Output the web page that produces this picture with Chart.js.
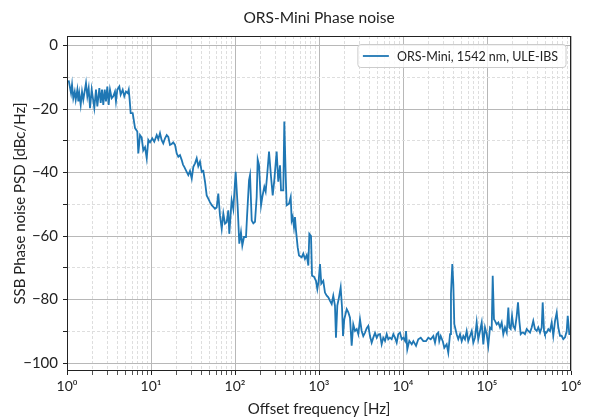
<!DOCTYPE html>
<html>
<head>
<meta charset="utf-8">
<script src="https://cdn.jsdelivr.net/npm/chart.js@4.4.0/dist/chart.umd.min.js"></script>
<style>
  html, body { margin: 0; padding: 0; background: #fff; }
</style>
</head>
<body>
<canvas id="phaseNoise" width="592" height="419"></canvas>
<script>
// offset frequency, as decade exponent (f = 10^x Hz)
const freqExp = [
  0.020,0.048,0.060,0.075,0.092,0.104,0.123,0.135,0.146,0.163,
  0.179,0.194,0.226,0.242,0.258,0.274,0.294,0.325,0.345,0.361,
  0.385,0.401,0.417,0.432,0.449,0.464,0.480,0.496,0.512,0.532,
  0.551,0.571,0.583,0.599,0.623,0.639,0.663,0.682,0.702,0.723,
  0.735,0.746,0.758,0.782,0.810,0.837,
  0.849,0.869,0.889,0.908,0.929,0.949,0.968,0.988,1.015,1.039,
  1.068,1.087,1.107,1.127,1.146,1.167,1.187,1.206,1.226,1.246,
  1.265,1.286,1.306,1.325,1.345,1.365,1.381,1.396,1.425,1.444,
  1.464,1.485,1.504,1.524,1.544,1.563,1.583,1.604,1.623,1.643,
  1.663,1.682,1.702,1.723,1.742,1.762,1.782,1.801,1.821,1.842,
  1.861,1.881,1.901,1.920,1.932,1.960,1.980,2.008,2.032,2.051,
  2.071,2.087,2.107,2.131,2.143,2.167,2.179,2.199,2.218,2.238,
  2.258,2.270,2.286,2.310,2.325,2.349,2.365,2.381,2.405,2.429,
  2.449,2.468,2.496,2.515,2.536,2.548,2.575,2.587,2.604,2.615,
  2.643,2.663,2.675,2.687,2.702,2.714,2.726,2.746,2.762,2.794,
  2.813,2.833,2.854,2.873,2.885,2.905,2.917,2.940,2.964,2.980,
  2.996,3.012,3.027,3.051,3.071,3.092,3.111,3.131,3.151,3.170,
  3.190,3.202,3.218,3.238,3.258,3.274,3.286,3.301,3.330,3.349,
  3.369,3.389,3.408,3.429,3.449,3.468,3.488,3.508,3.527,3.548,
  3.568,3.587,3.607,3.627,3.646,3.667,3.687,3.706,3.726,3.746,
  3.765,3.786,3.806,3.825,3.845,3.865,3.885,3.905,3.925,3.944,
  3.964,3.985,4.004,4.024,4.036,4.051,4.075,4.104,4.123,4.155,
  4.182,4.211,4.242,4.274,4.301,4.330,4.361,4.381,4.401,4.420,
  4.432,4.449,4.473,4.492,4.520,4.539,4.560,4.571,4.587,4.599,
  4.611,4.639,4.658,4.679,4.699,4.718,4.738,4.758,4.777,4.798,
  4.818,4.837,4.857,4.877,4.896,4.917,4.937,4.956,4.976,4.996,
  5.015,5.036,5.056,5.068,5.083,5.095,5.115,5.135,5.155,5.175,
  5.194,5.214,5.235,5.254,5.266,5.282,5.298,5.313,5.333,5.354,
  5.369,5.385,5.401,5.417,5.432,5.452,5.473,5.492,5.512,5.532,
  5.551,5.571,5.592,5.611,5.631,5.651,5.663,5.679,5.690,5.710,
  5.730,5.750,5.770,5.789,5.810,5.830,5.849,5.869,5.889,5.908,
  5.929,5.949,5.961,5.980,5.996
];

// SSB phase noise PSD in dBc/Hz
const psd = [
  -11.0,-15.0,-12.3,-16.6,-14.5,-17.1,-13.9,-17.6,-15.0,-18.7,
  -14.5,-17.1,-11.8,-16.0,-13.4,-19.7,-13.9,-19.7,-13.9,-19.2,
  -13.4,-18.1,-13.9,-18.7,-13.9,-17.6,-12.9,-18.7,-13.9,-16.6,
  -16.0,-14.5,-17.6,-13.9,-12.9,-15.5,-13.9,-16.0,-14.5,-15.0,
  -13.9,-17.1,-21.3,-21.3,-26.0,-27.1,
  -34.0,-28.2,-29.0,-33.0,-32.0,-35.5,-29.7,-30.5,-29.2,-30.3,
  -28.2,-29.5,-27.6,-29.8,-30.8,-29.2,-28.2,-28.8,-31.3,-31.0,
  -30.5,-31.3,-34.0,-35.0,-34.5,-36.0,-37.5,-38.2,-39.8,-40.8,
  -39.5,-41.9,-38.2,-37.1,-35.5,-38.0,-36.6,-39.8,-39.5,-42.9,
  -47.2,-48.2,-49.3,-50.3,-50.8,-51.4,-51.0,-46.6,-53.5,-57.7,
  -52.9,-56.1,-55.6,-51.9,-59.3,-48.7,-51.5,-39.8,-50.9,-62.4,
  -58.8,-63.0,-60.3,-60.3,-54.0,-42.4,-40.8,-55.1,-56.0,-55.5,
  -47.7,-35.9,-37.7,-50.3,-47.7,-44.5,-46.0,-41.4,-33.4,-41.4,
  -47.2,-42.4,-33.4,-42.9,-37.7,-45.6,-45.6,-23.9,-41.4,-50.3,
  -49.8,-47.7,-55.1,-54.0,-57.2,-54.0,-58.2,-63.5,-66.1,-66.7,
  -65.5,-67.2,-66.0,-69.3,-59.3,-60.0,-72.5,-72.8,-74.1,-76.7,
  -74.1,-68.8,-75.0,-74.1,-77.8,-78.8,-79.3,-80.4,-81.4,-78.8,
  -81.9,-92.0,-81.9,-79.3,-76.2,-82.5,-91.5,-86.2,-83.0,-84.0,
  -85.7,-94.5,-87.8,-89.9,-89.3,-90.9,-86.2,-89.9,-91.5,-90.4,
  -89.0,-88.3,-91.5,-93.6,-92.0,-90.5,-92.0,-91.0,-90.9,-94.1,
  -92.0,-93.0,-90.9,-92.5,-92.0,-92.5,-90.9,-92.0,-93.6,-90.9,
  -90.4,-92.5,-92.0,-93.0,-89.9,-95.7,-93.0,-94.1,-93.1,-94.6,
  -92.5,-92.0,-93.1,-93.1,-92.0,-92.5,-91.5,-93.6,-90.9,-90.4,
  -93.1,-91.5,-93.1,-95.2,-94.1,-96.7,-90.9,-78.2,-68.8,-75.0,
  -87.8,-90.9,-92.5,-90.9,-93.1,-91.5,-92.5,-89.9,-93.1,-91.5,
  -89.9,-93.6,-92.0,-87.2,-92.5,-89.9,-87.2,-94.1,-88.8,-90.9,
  -94.6,-88.8,-89.3,-72.5,-86.2,-86.7,-87.8,-87.2,-88.8,-87.2,
  -90.9,-88.8,-90.4,-82.5,-88.8,-89.3,-85.1,-88.3,-89.3,-85.1,
  -80.9,-86.7,-90.9,-90.4,-90.4,-90.9,-89.3,-89.9,-90.4,-88.8,
  -86.7,-89.3,-89.9,-88.8,-90.4,-88.8,-80.9,-89.9,-90.9,-90.4,
  -89.3,-89.9,-87.2,-91.4,-86.7,-84.1,-88.8,-91.4,-91.4,-92.5,
  -91.9,-89.9,-85.1,-90.9,-90.9
];

const decadeLabels = ['10\u2070','10\u00b9','10\u00b2','10\u00b3','10\u2074','10\u2075','10\u2076'];
const yTickValues = [-100,-95,-90,-85,-80,-75,-70,-65,-60,-55,-50,-45,-40,-35,-30,-25,-20,-15,-10,-5,0];
const seriesLabel = 'ORS-Mini, 1542 nm, ULE-IBS';

const txt = '#222222';
const fontFam = "Lato, 'DejaVu Sans', sans-serif";

// box round the plot area (matplotlib spines)
const frame = {
  id: 'frame',
  afterDatasetsDraw(chart) {
    const a = chart.chartArea, c = chart.ctx;
    c.save();
    c.strokeStyle = txt;
    c.lineWidth = 1;
    c.strokeRect(Math.round(a.left) + 0.5, Math.round(a.top) + 0.5,
                 Math.round(a.right - a.left) - 1, Math.round(a.bottom - a.top) - 1);
    c.restore();
  }
};

// legend box in upper right corner
const legendBox = {
  id: 'legendBox',
  afterDraw(chart) {
    const a = chart.chartArea, c = chart.ctx;
    const ds = chart.data.datasets[0];
    c.save();
    c.font = '12.5px ' + fontFam;
    const tw = c.measureText(ds.label).width;
    const w = tw + 47, h = 23;
    const x = a.right - 5 - w, y = a.top + 8.5;
    c.beginPath();
    c.roundRect(x, y, w, h, 3);
    c.fillStyle = 'rgba(255,255,255,0.8)';
    c.fill();
    c.strokeStyle = '#cccccc';
    c.lineWidth = 1;
    c.stroke();
    c.beginPath();
    c.moveTo(x + 5, y + h / 2);
    c.lineTo(x + 31, y + h / 2);
    c.strokeStyle = ds.borderColor;
    c.lineWidth = 1.8;
    c.stroke();
    c.fillStyle = txt;
    c.textBaseline = 'middle';
    c.fillText(ds.label, x + 39, y + h / 2 + 0.5);
    c.restore();
  }
};

const points = freqExp.map((e, i) => ({ x: Math.pow(10, e), y: psd[i] }));

new Chart(document.getElementById('phaseNoise'), {
  type: 'line',
  data: {
    datasets: [{
      label: seriesLabel,
      data: points,
      borderColor: '#1f77b4',
      backgroundColor: '#1f77b4',
      borderWidth: 1.8,
      pointRadius: 0,
      tension: 0,
      fill: false
    }]
  },
  options: {
    responsive: false,
    animation: false,
    devicePixelRatio: 1,
    layout: { padding: { left: 0, right: 21, top: 0, bottom: 0 } },
    plugins: {
      legend: { display: false },
      tooltip: { enabled: false },
      title: {
        display: true,
        fullSize: false,
        text: 'ORS-Mini Phase noise',
        color: txt,
        font: { family: fontFam, size: 15.5, weight: 'normal' },
        padding: { top: 8.7, bottom: 8.7 }
      }
    },
    scales: {
      x: {
        type: 'logarithmic',
        min: 1,
        max: 1e6,
        afterBuildTicks(scale) {
          const t = [];
          for (let d = 0; d < 6; d++) {
            for (let m = 1; m < 10; m++) t.push({ value: m * Math.pow(10, d), major: m === 1 });
          }
          t.push({ value: 1e6, major: true });
          scale.ticks = t;
        },
        afterFit(scale) { scale.height = 48; },
        ticks: {
          autoSkip: false,
          maxRotation: 0,
          padding: 3,
          color: txt,
          font: { family: fontFam, size: 14 },
          callback(value) {
            const p = Math.log10(value);
            return Math.abs(p - Math.round(p)) < 1e-9 ? decadeLabels[Math.round(p)] : '';
          }
        },
        grid: {
          color: ctx => (ctx.tick && ctx.tick.major) ? '#b8b8b8' : '#dedede',
          lineWidth: 1,
          tickLength: 4,
          tickColor: ctx => (ctx.tick && ctx.tick.major) ? txt : '#555555'
        },
        border: {
          display: false,
          dash: ctx => (ctx.tick && ctx.tick.major) ? [] : [3, 2]
        },
        title: {
          display: true,
          text: 'Offset frequency [Hz]',
          color: txt,
          font: { family: fontFam, size: 15 },
          padding: { top: 0, bottom: 1 }
        }
      },
      y: {
        type: 'linear',
        min: -102.5,
        max: 3,
        afterBuildTicks(scale) {
          scale.ticks = yTickValues.map(v => ({ value: v, major: v % 20 === 0 }));
        },
        afterFit(scale) { scale.width = 67; },
        ticks: {
          padding: 5,
          color: txt,
          font: { family: fontFam, size: 15 },
          callback(value) {
            if (value % 20 !== 0) return '';
            return value < 0 ? '\u2212' + Math.abs(value) : String(value);
          }
        },
        grid: {
          color: ctx => (ctx.tick && ctx.tick.major) ? '#b8b8b8' : '#dedede',
          lineWidth: 1,
          tickLength: 4,
          tickColor: txt
        },
        border: {
          display: false,
          dash: ctx => (ctx.tick && ctx.tick.major) ? [] : [3, 2]
        },
        title: {
          display: true,
          text: 'SSB Phase noise PSD [dBc/Hz]',
          color: txt,
          font: { family: fontFam, size: 15 },
          padding: { top: 11, bottom: 0 }
        }
      }
    }
  },
  plugins: [frame, legendBox]
});
</script>
</body>
</html>
